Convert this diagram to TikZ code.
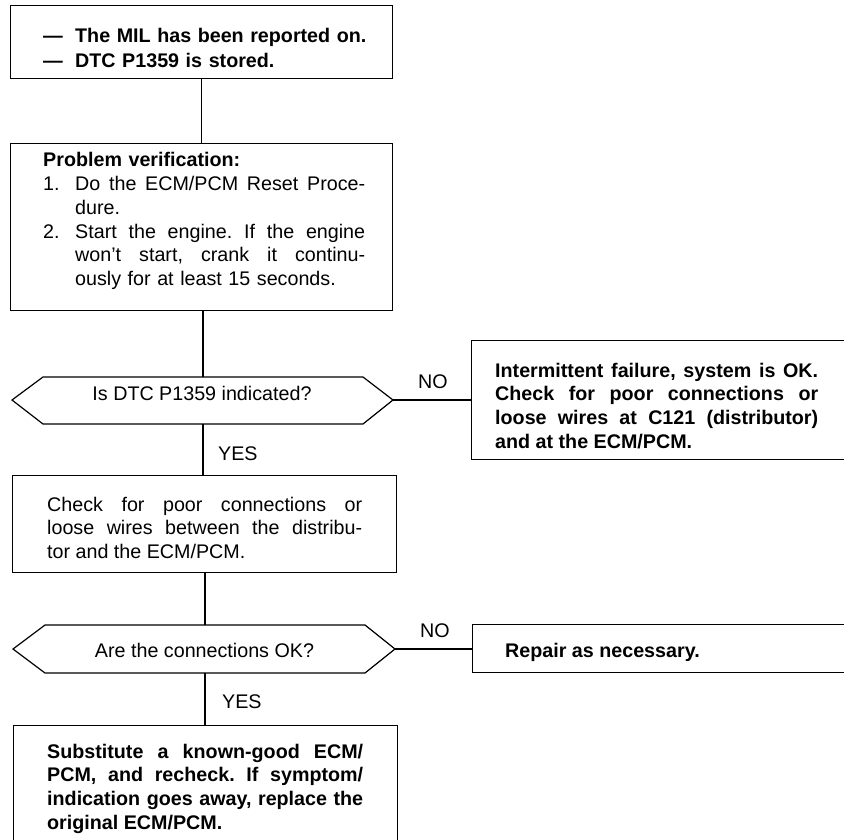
\documentclass[tikz,border=0pt]{standalone}
\usepackage{fontspec}
\setmainfont{Liberation Sans}
\hyphenpenalty=10000
\exhyphenpenalty=10000
\frenchspacing
\newcommand{\jline}[1]{\hbox to 290pt{\spaceskip=0pt\xspaceskip=0pt\relax #1}}
\begin{document}
\frenchspacing
\begin{tikzpicture}[x=1pt,y=-1pt,
  frame/.style={draw, line width=1.2pt, inner sep=0pt, anchor=north west},
  conn/.style={line width=1.2pt},
  txt/.style={inner sep=0pt, anchor=base west, font=\fontsize{19.7}{23.7}\selectfont},
  btxt/.style={inner sep=0pt, anchor=base west, font=\bfseries\fontsize{19.7}{23.7}\selectfont},
  just/.style={align=justify},
  lbl/.style={inner sep=0pt, anchor=base west, font=\fontsize{19.7}{23.7}\selectfont},
  qtxt/.style={inner sep=0pt, anchor=base, font=\fontsize{19.7}{23.7}\selectfont},
]
\useasboundingbox (0,0) rectangle (844,840);
\clip (0,0) rectangle (844,840);

% boxes
\node[frame, minimum width=382pt, minimum height=73pt]  (b1) at (10,5) {};
\node[frame, minimum width=382pt, minimum height=167pt] (b2) at (10,143) {};
\node[frame, minimum width=384pt, minimum height=97pt]  (b3) at (12,475) {};
\node[frame, minimum width=384pt, minimum height=130pt] (b4) at (13,725) {};
\node[frame, minimum width=400pt, minimum height=119pt] (r1) at (471,340) {};
\node[frame, minimum width=400pt, minimum height=48pt]  (r2) at (472,624) {};

% decision shapes
\draw[conn] (12,400) -- (43,377) -- (363,377) -- (393,400) -- (363,424) -- (43,424) -- cycle;
\coordinate (d1n) at (203,377);
\coordinate (d1s) at (203,424);
\coordinate (d1e) at (393,400);
\draw[conn] (13,649) -- (45,625) -- (365,625) -- (395,649) -- (365,673) -- (45,673) -- cycle;
\coordinate (d2n) at (205,625);
\coordinate (d2s) at (205,673);
\coordinate (d2e) at (395,649);

% connectors
\draw[conn] (b1.south) -- (b2.north);
\draw[conn] (b2.south -| d1n) -- (d1n);
\draw[conn] (d1s) -- (d1s |- b3.north);
\draw[conn] (d1e) -- (d1e -| r1.west);
\draw[conn] (b3.south -| d2n) -- (d2n);
\draw[conn] (d2s) -- (d2s |- b4.north);
\draw[conn] (d2e) -- (d2e -| r2.west);

% texts
\node[btxt, font=\bfseries\fontsize{19.7}{25}\selectfont, text width=340pt, align=left] (t1) at (43,43)
  {\makebox[32pt][l]{—}The MIL has been reported on.\\\makebox[32pt][l]{—}DTC P1359 is stored.};
\node[txt, text width=340pt, align=left] (t2) at (43,167)
  {\textbf{Problem verification:}\\
   \makebox[32pt][l]{1.}\jline{Do the ECM/PCM Reset Proce-}\\
   \hspace*{32pt}dure.\\
   \makebox[32pt][l]{2.}\jline{Start the engine. If the engine}\\
   \hspace*{32pt}\jline{won't start, crank it continu-}\\
   \hspace*{32pt}ously for at least 15 seconds.};
\node[qtxt] (q1) at (202,400) {Is DTC P1359 indicated?};
\node[btxt, just, text width=323pt] (t5) at (495,377)
  {Intermittent failure, system is OK.\linebreak Check for poor connections or\linebreak loose wires at C121 (distributor)\linebreak and at the ECM/PCM.};
\node[txt, just, text width=315pt] (t3) at (47,511)
  {Check for poor connections or\linebreak loose wires between the distribu-\linebreak tor and the ECM/PCM.};
\node[qtxt] (q2) at (204.5,657) {Are the connections OK?};
\node[btxt] (t6) at (505,657) {Repair as necessary.};
\node[btxt, just, text width=316pt] (t4) at (47,758)
  {Substitute a known-good ECM/\linebreak PCM, and recheck. If symptom/\linebreak indication goes away, replace the\linebreak original ECM/PCM.};

% labels
\node[lbl] (no1) at (418,388) {NO};
\node[lbl] (yes1) at (218,460) {YES};
\node[lbl] (no2) at (420,637) {NO};
\node[lbl] (yes2) at (222,708) {YES};
\end{tikzpicture}
\end{document}
